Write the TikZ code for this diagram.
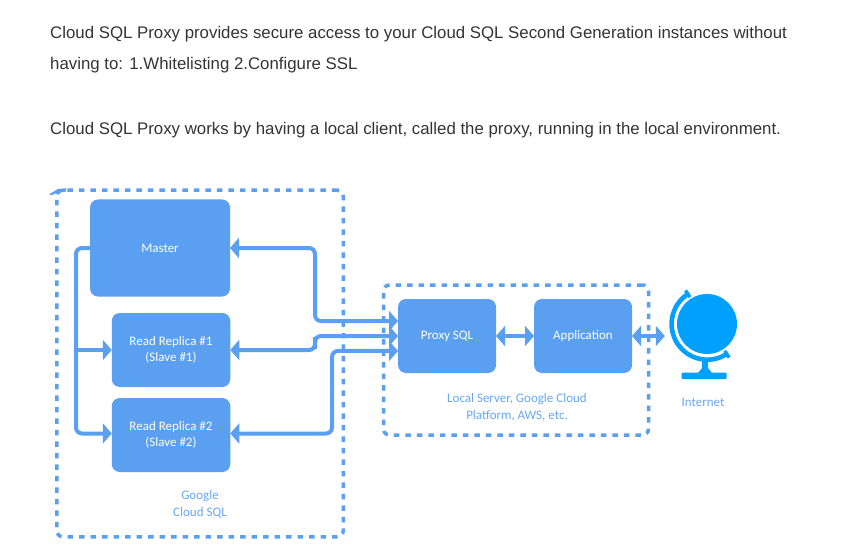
\documentclass[tikz,border=0pt]{standalone}
\usepackage{fontspec}
\setmainfont{Liberation Sans}
\newfontfamily\boxfont{Carlito}
\usetikzlibrary{arrows.meta}
\definecolor{boxblue}{HTML}{5A9FF0}
\definecolor{labelblue}{HTML}{66A8F5}
\definecolor{globeblue}{HTML}{00A0FF}
\definecolor{bodygray}{HTML}{333333}
\tikzset{
  para/.style={anchor=west,inner sep=0pt,text=bodygray,font=\fontsize{16.82}{19}\selectfont},
  dashbox/.style={draw=boxblue,line width=3.5pt,dash pattern=on 5.5pt off 6pt,rounded corners=6pt,inner sep=0pt,outer sep=0pt},
  server/.style={fill=boxblue,rounded corners=8pt,inner sep=0pt,outer sep=0pt,text=white,align=center,font=\boxfont\fontsize{13}{16.5}\selectfont},
  note/.style={text=labelblue,align=center,inner sep=0pt,font=\boxfont\fontsize{13}{17}\selectfont},
  link/.style={draw=boxblue,line width=4pt,rounded corners=6pt},
  tip/.style={{Triangle[length=9pt,width=20pt]}-{Triangle[length=9pt,width=20pt]}},
  headonly/.style={-{Triangle[length=9pt,width=20pt]}}
}
\begin{document}
\begin{tikzpicture}[x=1pt,y=-1pt]
\useasboundingbox (0,0) rectangle (859,556);

\node[para] (line1) at (50,34) {Cloud SQL Proxy provides secure access to your Cloud SQL Second Generation instances without};
\node[para] (line2) at (50,65) {having to: 1.Whitelisting 2.Configure SSL};
\node[para] (line3) at (50,130) {Cloud SQL Proxy works by having a local client, called the proxy, running in the local environment.};

\node[dashbox,minimum width=286.5pt,minimum height=346.5pt] (cloudsql) at (200,363.5) {};
\node[dashbox,minimum width=265pt,minimum height=150pt] (localsrv) at (516,360) {};
\fill[boxblue] (49,194.5) -- (58,189) -- (66,188.3) -- (66,191.7) -- (58,192) -- (52,195) -- cycle;

\node[server,minimum width=140pt,minimum height=97pt] (master) at (160,248) {Master};
\node[server,minimum width=118.5pt,minimum height=74pt] (rep1) at (171,350) {\raisebox{-1pt}{Read Replica \#1}\\\raisebox{-1pt}{(Slave \#1)}};
\node[server,minimum width=118.5pt,minimum height=74pt] (rep2) at (171,435) {\raisebox{-1pt}{Read Replica \#2}\\\raisebox{-1pt}{(Slave \#2)}};
\node[server,minimum width=98pt,minimum height=74pt] (proxy) at (447,336) {\raisebox{-1pt}{Proxy SQL}};
\node[server,minimum width=98pt,minimum height=74pt] (app) at (583,336) {\raisebox{-1pt}{Application}};

\node[note] (cloudlbl) at (200,504.5) {Google\\Cloud SQL};
\node[note] (locallbl) at (517,407.5) {Local Server, Google Cloud\\Platform, AWS, etc.};
\node[note] (netlbl) at (703,402.5) {Internet};

\node[circle,fill=globeblue,minimum size=60pt,inner sep=0pt] (globe) at (707,324) {};
\coordinate (globec) at (707.3,324);
\draw[globeblue,line width=4.6pt] ([shift={(123:35.7pt)}]globec) arc[start angle=123,end angle=303,radius=35.7pt];
\draw[globeblue,line width=3.5pt] ([shift={(123:32pt)}]globec) -- ([shift={(123:40pt)}]globec);
\draw[globeblue,line width=3.5pt] ([shift={(303:32pt)}]globec) -- ([shift={(303:40pt)}]globec);
\fill[globeblue] (702,358) -- (708,358) -- (708,368) -- (712,373) -- (698,373) -- (702,368) -- cycle;
\fill[globeblue,rounded corners=1pt] (681.7,372.7) rectangle (726.7,379);

\coordinate (trunk) at (76,350);
\coordinate (bendm) at (315,280);
\coordinate (bendr) at (315,343);
\coordinate (bends) at (332,400);

\draw[link,headonly] (master.west) -| (trunk) |- ([yshift=1.5pt]rep2.west);
\draw[link,headonly] (trunk) -- (rep1.west);
\draw[link,tip] (master.east) -| (bendm) |- (proxy.163);
\draw[link,tip] (rep1.east) -| (bendr) |- (proxy.west);
\draw[link,tip] ([yshift=1.5pt]rep2.east) -| (bends) |- (proxy.197);
\draw[link,tip] (proxy.east) -- (app.west);
\draw[link,tip,shorten >=12pt] (app.east) -- (app.east -| globe.west);
\end{tikzpicture}
\end{document}
